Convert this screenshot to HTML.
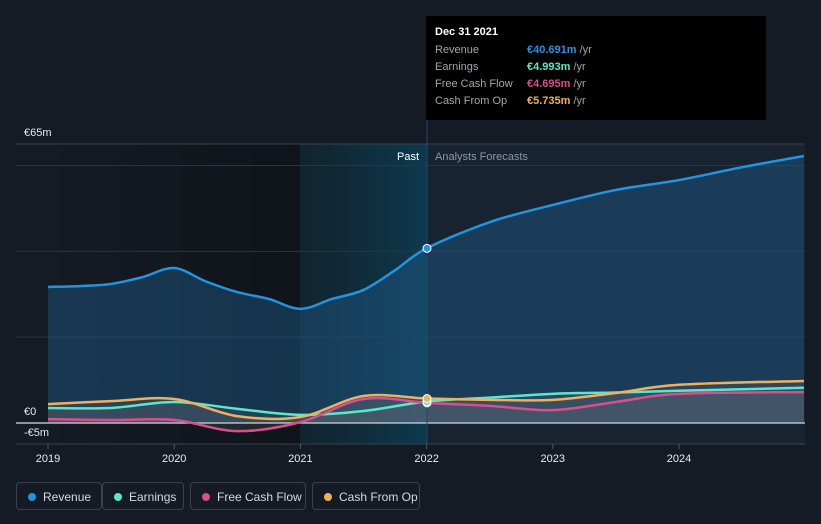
<!DOCTYPE html>
<html><head><meta charset="utf-8"><style>
body{margin:0;background:#151b24;width:821px;height:524px;overflow:hidden;font-family:"Liberation Sans",sans-serif}
svg{position:absolute;left:0;top:0}
.leg{position:absolute;top:482px;height:28px;border:1px solid #3a414c;border-radius:4px;color:#d6d9de;font-size:12px;line-height:28px;box-sizing:border-box;padding-left:26px}
.leg i{position:absolute;left:11px;top:10px;width:8px;height:8px;border-radius:50%}
</style></head><body>
<svg id="c" width="821" height="524"></svg>
<div class="leg" style="left:16px;width:86px"><i style="background:#2394df"></i>Revenue</div>
<div class="leg" style="left:102px;width:82px"><i style="background:#5ee6c8"></i>Earnings</div>
<div class="leg" style="left:190px;width:116px"><i style="background:#d64f8e"></i>Free Cash Flow</div>
<div class="leg" style="left:312px;width:108px"><i style="background:#efb15b"></i>Cash From Op</div>
<script>
const revT=[2019,2019.25,2019.5,2019.75,2020,2020.25,2020.5,2020.75,2021,2021.25,2021.5,2021.75,2022,2022.5,2023,2023.5,2024,2024.5,2024.99];
const revV=[31.7,31.9,32.4,34,36.1,33,30.5,28.9,26.6,28.9,31,35.6,40.7,46.8,50.8,54.3,56.6,59.6,62.2];
const t2=[2019,2019.5,2020,2020.5,2021,2021.5,2022,2022.5,2023,2023.5,2024,2024.99];
const earnV=[3.5,3.5,4.9,3.3,1.9,2.8,5.0,5.9,6.8,7.1,7.5,8.2];
const fcfV=[0.9,0.7,0.7,-1.9,0.2,5.6,4.7,4.0,3.0,4.9,6.8,7.2];
const cfoV=[4.4,5.1,5.6,1.6,1.4,6.3,5.7,5.4,5.4,7.0,8.9,9.8];
const yTicks=[{v:65,l:"€65m"},{v:0,l:"€0"},{v:-5,l:"-€5m"}];
const xTicks=[2019,2020,2021,2022,2023,2024];
const X=t=>48+(t-2019)*126.2, Y=v=>423-v*4.292;
const s=document.getElementById('c'),NS="http://www.w3.org/2000/svg";
function el(n,a,p){const e=document.createElementNS(NS,n);for(const k in a)e.setAttribute(k,a[k]);(p||s).appendChild(e);return e;}
function path(ts,vs){const p=ts.map((t,i)=>[X(t),Y(vs[i])]);let d="M"+p[0];for(let i=0;i<p.length-1;i++){const a=p[i-1]||p[i],b=p[i],c=p[i+1],e=p[i+2]||c;d+=` C${b[0]+(c[0]-a[0])/6},${b[1]+(c[1]-a[1])/6} ${c[0]-(e[0]-b[0])/6},${c[1]-(e[1]-b[1])/6} ${c[0]},${c[1]}`;}return d;}
const defs=el('defs',{});
defs.innerHTML='<linearGradient id="hl" x1="0" x2="1"><stop offset="0" stop-color="#0f2a36" stop-opacity="0.6"/><stop offset="1" stop-color="#0d3a4e"/></linearGradient><linearGradient id="pa" x1="0" x2="1"><stop offset="0" stop-color="#151b24"/><stop offset="1" stop-color="#0f141a"/></linearGradient>';
el('rect',{x:48,y:144,width:252,height:300,fill:'url(#pa)'});
el('rect',{x:300,y:144,width:127,height:300,fill:'url(#hl)'});
el('rect',{x:427,y:144,width:378,height:300,fill:'#172331'});
[60,40,20].forEach(v=>el('line',{x1:16,x2:805,y1:Y(v),y2:Y(v),stroke:'#2b3440'}));
el('line',{x1:16,x2:805,y1:144,y2:144,stroke:'#3a414c'});
el('line',{x1:16,x2:805,y1:444,y2:444,stroke:'#3a414c'});
const rp=path(revT,revV);
let a=el('path',{d:rp+` L${X(2024.99)},${Y(0)} L48,${Y(0)} Z`,fill:'#1e5a8a',opacity:0.45});
const small=[[earnV,'#5ee6c8'],[fcfV,'#d64f8e'],[cfoV,'#efb15b']];
small.forEach(([v,c])=>el('path',{d:path(t2,v)+` L${X(2024.99)},${Y(0)} L48,${Y(0)} Z`,fill:'#6a6f78',opacity:0.22}));
el('line',{x1:16,x2:805,y1:Y(0),y2:Y(0),stroke:'#b8bcc2','stroke-width':1.5});
let r=el('path',{d:rp,fill:'none',stroke:'#2394df','stroke-width':2.5});
const names=['earnings-line','free-cash-flow-line','cash-from-op-line'];
small.forEach(([v,c],i)=>{const p=el('path',{d:path(t2,v),fill:'none',stroke:c,'stroke-width':2.5});});
el('line',{x1:427,x2:427,y1:16,y2:444,stroke:'#1e4a5e'});
[[revV[12],'#2394df'],[fcfV[6],'#d64f8e'],[earnV[6],'#5ee6c8'],[cfoV[6],'#efb15b']].forEach(([v,c])=>el('circle',{cx:427,cy:Y(v),r:4,fill:c,stroke:'#fff','stroke-width':1}));
xTicks.forEach(t=>{el('line',{x1:X(t),x2:X(t),y1:444,y2:449,stroke:'#555'});const tx=el('text',{x:X(t),y:462,fill:'#e8eaed','font-size':11,'text-anchor':'middle'});tx.textContent=t;});
const yl={65:136,0:415,'-5':436};
yTicks.forEach(o=>{const tx=el('text',{x:24,y:yl[o.v],fill:'#e8eaed','font-size':11});tx.textContent=o.l;});
let t=el('text',{x:419,y:160,fill:'#fff','font-size':11,'text-anchor':'end'});t.textContent='Past';
t=el('text',{x:435,y:160,fill:'#8e959f','font-size':11});t.textContent='Analysts Forecasts';
const g=el('g',{});
el('rect',{x:426,y:16,width:340,height:104,fill:'#000'},g);
t=el('text',{x:435,y:35,fill:'#fff','font-size':11,'font-weight':'bold'},g);t.textContent='Dec 31 2021';
[['Revenue','€40.691m','#2394df'],['Earnings','€4.993m','#5ee6c8'],['Free Cash Flow','€4.695m','#d64f8e'],['Cash From Op','€5.735m','#efb15b']].forEach((r,i)=>{
let a=el('text',{x:435,y:53+i*17,fill:'#a0a6ae','font-size':11},g);a.textContent=r[0];
a=el('text',{x:527,y:53+i*17,fill:r[2],'font-size':11,'font-weight':'bold'},g);a.innerHTML=r[1]+'<tspan fill="#a0a6ae" font-weight="normal"> /yr</tspan>';});
</script></body></html>
